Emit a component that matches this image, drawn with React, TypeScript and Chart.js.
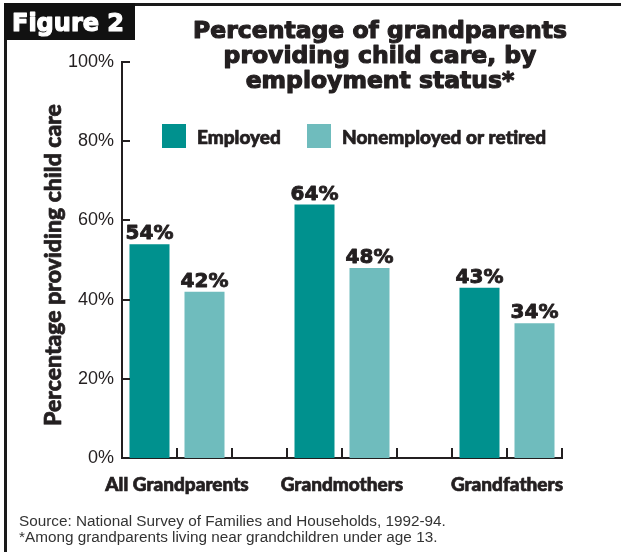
import React, { useEffect, useRef } from 'react';
import { Chart, registerables } from 'chart.js';

Chart.register(...registerables);

// ---- data ----
const groups = ['All Grandparents', 'Grandmothers', 'Grandfathers'];
const seriesNames = ['Employed', 'Nonemployed or retired'];
const employed = [54, 64, 43];
const nonemployed = [42, 48, 34];
const yTickStep = 20;
const yMax = 100;
const titleLines = ['Percentage of grandparents', 'providing child care, by', 'employment status*'];
const figureLabel = 'Figure 2';
const yAxisTitle = 'Percentage providing child care';
const notes = [
  'Source: National Survey of Families and Households, 1992-94.',
  '*Among grandparents living near grandchildren under age 13.',
];

// ---- styles ----
const TEAL = '#00918e';
const LIGHT = '#6fbcbd';
const INK = '#231f20';
const HEAVY = '"DejaVu Sans", sans-serif';
const BLACK = 'Lato, "Liberation Sans", sans-serif';
const SANS = '"Liberation Sans", Arial, sans-serif';
const W = 621;
const H = 552;

// slot layout: each group takes two bar slots plus one gap slot
const SLOTS_PER_GROUP = 3;
const slotCount = groups.length * SLOTS_PER_GROUP - 1;

function heavyText(ctx: CanvasRenderingContext2D, text: string, x: number, y: number, w: number) {
  ctx.lineWidth = w;
  ctx.lineJoin = 'round';
  ctx.strokeStyle = ctx.fillStyle as string;
  ctx.strokeText(text, x, y);
  ctx.fillText(text, x, y);
}

const tickPlugin = {
  id: 'inwardTicks',
  afterDraw(chart: any) {
    const ctx = chart.ctx as CanvasRenderingContext2D;
    const area = chart.chartArea;
    const xs = chart.scales.x;
    const ys = chart.scales.y;
    ctx.save();
    ctx.fillStyle = INK;
    for (let v = yTickStep; v <= yMax; v += yTickStep) {
      const y = Math.round(ys.getPixelForValue(v));
      ctx.fillRect(area.left, y - 1, 8, 2);
    }
    for (let s = 1; s <= slotCount; s++) {
      const x = Math.round(xs.getPixelForValue(s));
      ctx.fillRect(x - 1, area.bottom - 10, 2, 10);
    }
    ctx.restore();
  },
};

const decorPlugin = {
  id: 'decor',
  afterDraw(chart: any) {
    const ctx = chart.ctx as CanvasRenderingContext2D;
    ctx.save();

    // frame
    ctx.fillStyle = '#1a1a1a';
    ctx.fillRect(4, 3, W - 4, 3);
    ctx.fillRect(4, 3, 3, H - 3);

    // figure box
    ctx.fillStyle = '#111';
    ctx.fillRect(4, 3, 131, 37);
    ctx.fillStyle = '#fff';
    ctx.font = `bold 24px ${HEAVY}`;
    ctx.textAlign = 'left';
    ctx.textBaseline = 'alphabetic';
    heavyText(ctx, figureLabel, 12, 31, 1.2);

    // title
    ctx.fillStyle = INK;
    ctx.font = `bold 23.5px ${HEAVY}`;
    ctx.textAlign = 'center';
    titleLines.forEach((t, i) => heavyText(ctx, t, 380, 38 + i * 25, 1.2));

    // legend
    const legendX = [162, 307];
    chart.data.datasets.forEach((ds: any, i: number) => {
      ctx.fillStyle = ds.backgroundColor;
      ctx.fillRect(legendX[i], 124, 24, 24);
      ctx.fillStyle = INK;
      ctx.font = `900 19px ${BLACK}`;
      ctx.textAlign = 'left';
      ctx.textBaseline = 'middle';
      heavyText(ctx, ds.label, legendX[i] + 35, 138, 0.7);
    });

    // value labels
    ctx.font = `bold 20px ${HEAVY}`;
    ctx.textAlign = 'center';
    ctx.textBaseline = 'alphabetic';
    ctx.fillStyle = INK;
    chart.data.datasets.forEach((ds: any, di: number) => {
      const meta = chart.getDatasetMeta(di);
      meta.data.forEach((el: any, j: number) => {
        const v = ds.data[j].y;
        heavyText(ctx, `${v}%`, el.x, el.y - 5, 0.9);
      });
    });

    // y axis title
    ctx.save();
    ctx.translate(54, 265);
    ctx.rotate(-Math.PI / 2);
    ctx.font = `900 23px ${BLACK}`;
    ctx.textAlign = 'center';
    ctx.textBaseline = 'middle';
    ctx.fillStyle = INK;
    heavyText(ctx, yAxisTitle, 0, 0, 0.7);
    ctx.restore();

    // notes
    ctx.font = `15.3px ${SANS}`;
    ctx.fillStyle = '#333';
    ctx.textAlign = 'left';
    ctx.textBaseline = 'alphabetic';
    notes.forEach((n, i) => ctx.fillText(n, 19, 526 + i * 16));

    ctx.restore();
  },
};

export default function App() {
  const ref = useRef<HTMLCanvasElement | null>(null);

  useEffect(() => {
    if (!ref.current) return;
    const chart = new Chart(ref.current, {
      type: 'bar',
      data: {
        datasets: [
          {
            label: seriesNames[0],
            data: employed.map((v, i) => ({ x: i * SLOTS_PER_GROUP + 0.5, y: v })),
            backgroundColor: TEAL,
          },
          {
            label: seriesNames[1],
            data: nonemployed.map((v, i) => ({ x: i * SLOTS_PER_GROUP + 1.5, y: v })),
            backgroundColor: LIGHT,
          },
        ],
      },
      options: {
        responsive: false,
        animation: false,
        devicePixelRatio: 1,
        layout: { padding: { top: 62, right: 59, bottom: 54, left: 0 } },
        datasets: { bar: { barPercentage: 40 / 55, categoryPercentage: 1 } },
        plugins: { legend: { display: false }, tooltip: { enabled: false }, title: { display: false } },
        scales: {
          x: {
            type: 'linear',
            min: 0,
            max: slotCount,
            offset: false,
            stacked: true,
            grid: { display: false, drawTicks: false, offset: false },
            border: { display: true, color: INK, width: 2 },
            ticks: {
              stepSize: 1,
              autoSkip: false,
              maxRotation: 0,
              padding: 15,
              color: INK,
              textStrokeColor: INK,
              textStrokeWidth: 0.7,
              font: { family: BLACK, size: 19, weight: '900' },
              callback: (v: any) => {
                const n = Number(v) - 1;
                return n % SLOTS_PER_GROUP === 0 ? groups[n / SLOTS_PER_GROUP] ?? '' : '';
              },
            },
            afterFit: (s: any) => {
              s.height = 40;
            },
          },
          y: {
            min: 0,
            max: yMax,
            grid: { display: false, drawTicks: false },
            border: { display: true, color: INK, width: 2 },
            ticks: {
              stepSize: yTickStep,
              padding: 8,
              color: INK,
              font: { family: SANS, size: 18 },
              callback: (v: any) => `${v}%`,
            },
            afterFit: (s: any) => {
              s.width = 122;
            },
          },
        },
      } as any,
      plugins: [decorPlugin, tickPlugin],
    });
    return () => chart.destroy();
  }, []);

  return (
    <div style={{ position: 'fixed', left: 0, top: 0, width: W, height: H, background: '#fff' }}>
      <canvas ref={ref} width={W} height={H} style={{ width: W, height: H, display: 'block' }} />
    </div>
  );
}
